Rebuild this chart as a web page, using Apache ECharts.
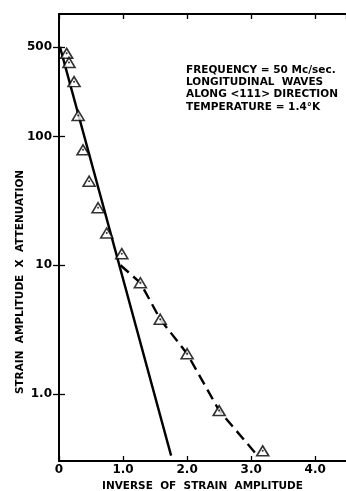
<!DOCTYPE html>
<html><head><meta charset="utf-8">
<script src="https://cdn.jsdelivr.net/npm/echarts@6/dist/echarts.min.js"></script>
<style>html,body{margin:0;padding:0;background:#fff}#c{width:346px;height:491px}</style>
</head><body><div id="c"></div>
<script>
// Measured data (triangles)
const invStrain = [0.12, 0.156, 0.235, 0.30, 0.375, 0.47, 0.61, 0.745, 0.98, 1.27, 1.58, 2.0, 2.5, 3.18];
const product   = [445, 378, 268, 146, 79, 45, 28, 17.8, 12.3, 7.3, 3.8, 2.05, 0.74, 0.36];
// Solid straight-line fit
const solidX = [0.015, 1.75];
const solidY = [500, 0.33];
// Dashed curve
const dashX = [0.96, 1.27, 1.58, 2.0, 2.5, 3.1];
const dashY = [10.0, 7.3, 3.8, 2.05, 0.74, 0.33];
// Tick labels
const xTickValues = [0, 1, 2, 3, 4];
const xTickLabels = ['0', '1.0', '2.0', '3.0', '4.0'];
const yTickValues = [1, 10, 100, 500];
const yTickLabels = ['1.0', '10', '100', '500'];
const noteLines = ['FREQUENCY = 50 Mc/sec.', 'LONGITUDINAL  WAVES', 'ALONG <111> DIRECTION', 'TEMPERATURE = 1.4°K'];

const zip = (a, b) => a.map((v, i) => [v, b[i]]);
const FONT = 'DejaVu Sans';
const axisLine = {show: true, lineStyle: {color: '#000', width: 1.8}};
const tickStyle = {color: '#000', width: 1.3};
const txt = {fontSize: 10.5, fontFamily: FONT, fontWeight: 'bold', fill: '#000', align: 'left', verticalAlign: 'middle'};

const chart = echarts.init(document.getElementById('c'), null, {renderer: 'canvas'});
chart.setOption({
  animation: false,
  backgroundColor: '#fff',
  grid: {left: 59, top: 14, right: 0, bottom: 30, containLabel: false, outerBoundsMode: 'none'},
  xAxis: [
    {type: 'value', position: 'bottom', min: 0, max: 4.48, interval: 1,
     axisLine: axisLine,
     axisTick: {inside: true, length: 5, lineStyle: tickStyle},
     axisLabel: {color: '#000', fontSize: 12, fontFamily: FONT, fontWeight: 'bold', margin: 3, showMaxLabel: false,
       formatter: v => { const i = xTickValues.indexOf(v); return i >= 0 ? xTickLabels[i] : ''; }},
     splitLine: {show: false},
     name: 'INVERSE  OF  STRAIN  AMPLITUDE', nameLocation: 'middle', nameGap: 20,
     nameTextStyle: {color: '#000', fontSize: 10.5, fontFamily: FONT, fontWeight: 'bold'}},
    {type: 'value', position: 'top', min: 0, max: 4.48, interval: 1,
     axisLine: axisLine,
     axisTick: {inside: true, length: 5, lineStyle: tickStyle},
     axisLabel: {show: false}, splitLine: {show: false}}
  ],
  yAxis: [
    {type: 'log', position: 'left', min: 0.3, max: 900, logBase: 10,
     axisLine: axisLine,
     axisTick: {inside: true, length: 6, lineStyle: tickStyle, customValues: yTickValues},
     axisLabel: {color: '#000', fontSize: 12, fontFamily: FONT, fontWeight: 'bold', margin: 7, customValues: yTickValues,
       formatter: v => { const i = yTickValues.findIndex(t => Math.abs(t - v) / t < 1e-6); return i >= 0 ? yTickLabels[i] : ''; }},
     splitLine: {show: false}, minorTick: {show: false}},
    {type: 'log', position: 'right', min: 0.3, max: 900, logBase: 10,
     axisLine: axisLine,
     axisTick: {inside: true, length: 6, lineStyle: tickStyle, customValues: yTickValues},
     axisLabel: {show: false}, splitLine: {show: false}}
  ],
  graphic: [
    {type: 'text', x: 20, y: 282, rotation: Math.PI / 2,
     style: Object.assign({}, txt, {text: 'STRAIN  AMPLITUDE  X  ATTENUATION', align: 'center'})},
    {type: 'text', x: 186, y: 70, style: Object.assign({}, txt, {text: noteLines[0]})},
    {type: 'text', x: 186, y: 82, style: Object.assign({}, txt, {text: noteLines[1]})},
    {type: 'text', x: 186, y: 94, style: Object.assign({}, txt, {text: noteLines[2]})},
    {type: 'text', x: 186, y: 107, style: Object.assign({}, txt, {text: noteLines[3]})}
  ],
  series: [
    {type: 'line', data: zip(solidX, solidY), symbol: 'none', z: 2,
     lineStyle: {color: '#000', width: 2.4}},
    {type: 'line', data: zip(dashX, dashY), symbol: 'none', z: 2,
     lineStyle: {color: '#000', width: 2.4, type: [11, 6]}},
    {type: 'scatter', data: zip(invStrain, product), symbol: 'triangle', symbolSize: [12, 10], z: 3,
     itemStyle: {color: '#fff', borderColor: '#000', borderWidth: 1.6}},
    {type: 'scatter', data: zip(invStrain, product), symbol: 'circle', symbolSize: 2, z: 4,
     itemStyle: {color: '#000'}}
  ]
});
</script></body></html>
